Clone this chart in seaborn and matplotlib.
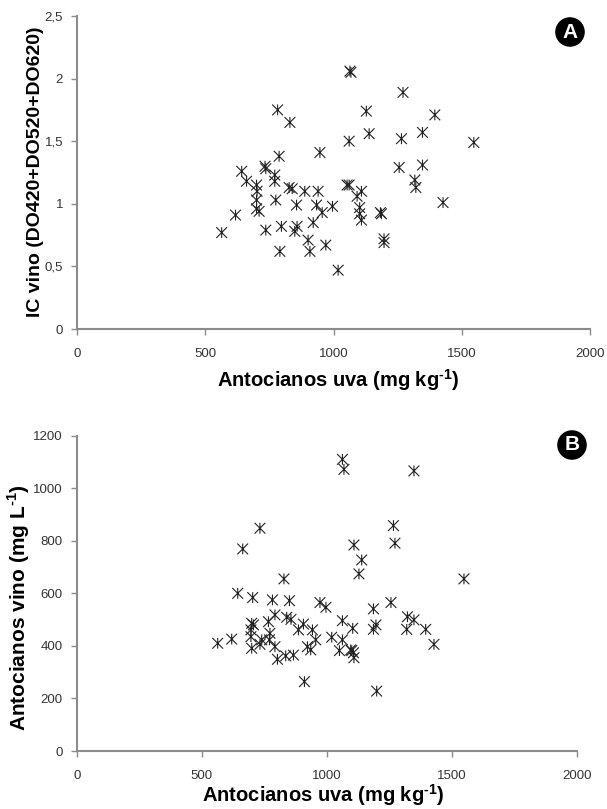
import numpy as np
import pandas as pd
import matplotlib
matplotlib.use("Agg")
import matplotlib.pyplot as plt
from matplotlib.path import Path
import seaborn as sns

# Panel A: grape anthocyanins vs wine colour intensity
a_x = [564, 618, 642, 661, 700, 702, 700, 700, 710, 733, 736, 736, 771, 771, 782,
       775, 788, 791, 797, 830, 827, 839, 856, 849, 858, 888, 901, 908, 921, 934,
       940, 947, 956, 970, 996, 1018, 1053, 1061, 1061, 1064, 1068, 1271, 1128,
       1395, 1139, 1347, 1265, 1547, 1256, 1347, 1317, 1321, 1109, 1092, 1102,
       1102, 1109, 1183, 1187, 1427, 1197, 1197]
a_y = [0.77, 0.91, 1.26, 1.18, 1.15, 1.10, 1.03, 0.96, 0.94, 1.30, 1.28, 0.79, 1.23,
       1.18, 1.75, 1.03, 1.38, 0.62, 0.82, 1.65, 1.13, 1.12, 0.99, 0.78, 0.82, 1.10,
       0.71, 0.62, 0.85, 0.99, 1.10, 1.41, 0.93, 0.67, 0.98, 0.47, 1.15, 1.15, 1.50,
       2.06, 2.05, 1.89, 1.74, 1.71, 1.56, 1.57, 1.52, 1.49, 1.29, 1.31, 1.19, 1.13,
       1.10, 1.06, 0.97, 0.92, 0.87, 0.93, 0.92, 1.01, 0.72, 0.69]

# Panel B: grape anthocyanins vs wine anthocyanins
b_x = [564, 620, 644, 664, 704, 700, 707, 697, 697, 700, 733, 740, 733, 767, 773,
       771, 783, 793, 793, 803, 829, 836, 840, 851, 857, 867, 887, 907, 911, 923,
       943, 936, 956, 973, 997, 1020, 1063, 1069, 1063, 1063, 1051, 1104, 1100,
       1109, 1349, 1267, 1273, 1140, 1129, 1549, 1257, 1187, 1197, 1187, 1323,
       1349, 1320, 1396, 1429, 1096, 1107, 1109, 1200]
b_y = [410, 426, 600, 769, 584, 486, 480, 461, 435, 391, 848, 423, 406, 492, 448,
       423, 575, 518, 397, 349, 655, 362, 509, 572, 501, 365, 461, 483, 264, 397,
       461, 385, 423, 565, 547, 433, 1110, 1072, 496, 423, 382, 467, 382, 784,
       1066, 858, 791, 727, 674, 655, 565, 541, 480, 463, 511, 499, 463, 463, 406,
       385, 374, 355, 228]

a_yticks = [0, 0.5, 1, 1.5, 2, 2.5]
a_yticklabels = ["0", "0,5", "1", "1,5", "2", "2,5"]
b_yticks = [0, 200, 400, 600, 800, 1000, 1200]
xticks = [0, 500, 1000, 1500, 2000]

sns.set_style("white")
plt.rcParams['font.family'] = ['Liberation Sans', 'DejaVu Sans']
plt.rcParams['mathtext.fontset'] = 'custom'
plt.rcParams['mathtext.rm'] = 'Liberation Sans:bold'
plt.rcParams['mathtext.bf'] = 'Liberation Sans:bold'

# Excel-like "star" marker: X with a vertical stroke
verts = [(-1, -1), (1, 1), (-1, 1), (1, -1), (0, -1), (0, 1)]
codes = [Path.MOVETO, Path.LINETO, Path.MOVETO, Path.LINETO, Path.MOVETO, Path.LINETO]
star = Path(verts, codes)

fig = plt.figure(figsize=(6.07, 8.09), dpi=100)
axA = fig.add_axes([77/607, 1-329/809, 513/607, 313/809])
axB = fig.add_axes([76.7/607, 1-751/809, 500/607, 315.3/809])

dfA = pd.DataFrame({"x": a_x, "y": a_y})
dfB = pd.DataFrame({"x": b_x, "y": b_y})

for ax, df in [(axA, dfA), (axB, dfB)]:
    sns.scatterplot(data=df, x="x", y="y", ax=ax, marker=star, s=60,
                    facecolor="none", edgecolor="#222222", linewidth=0.8,
                    color="#222222", legend=False, clip_on=False)
    for side in ["top", "right"]:
        ax.spines[side].set_visible(False)
    for side in ["left", "bottom"]:
        ax.spines[side].set_color("#8c8c8c")
        ax.spines[side].set_linewidth(1.5)
    ax.tick_params(axis="both", direction="out", length=4, width=1,
                   color="#8c8c8c", labelsize=9.5, labelcolor="#333333",
                   left=True, bottom=True)
    ax.tick_params(axis="x", pad=10)
    ax.tick_params(axis="y", pad=6)
    ax.set_xlim(0, 2000)
    ax.set_xticks(xticks)
    ax.set_xticklabels([str(t) for t in xticks])

axA.set_ylim(0, 2.5)
axA.set_yticks(a_yticks)
axA.set_yticklabels(a_yticklabels)
axB.set_ylim(0, 1200)
axB.set_yticks(b_yticks)
axB.set_yticklabels([str(t) for t in b_yticks])

lab = dict(fontweight="bold", color="black")
axA.set_xlabel("Antocianos uva (mg kg$^{\\text{-1}}$)", va="center", fontsize=14.5, **lab)
axA.xaxis.set_label_coords(0.509, -0.163)
axA.set_ylabel("IC vino (DO420+DO520+DO620)", va="center", fontsize=14, **lab)
axA.yaxis.set_label_coords(-0.08, 0.503)
axB.set_xlabel("Antocianos uva (mg kg$^{\\text{-1}}$)", va="center", fontsize=14.5, **lab)
axB.xaxis.set_label_coords(0.494, -0.14)
axB.set_ylabel("Antocianos vino (mg L$^{\\text{-1}}$)", va="center", fontsize=15, **lab)
axB.yaxis.set_label_coords(-0.115, 0.454)

circ = dict(boxstyle="circle,pad=0.22", fc="black", ec="black")
fig.text(570/607, 1-32/809, "A", ha="center", va="center", color="white",
         fontsize=15, fontweight="bold", bbox=circ)
fig.text(572/607, 1-445/809, "B", ha="center", va="center", color="white",
         fontsize=15, fontweight="bold", bbox=circ)

fig.savefig("out.png", dpi=100)
